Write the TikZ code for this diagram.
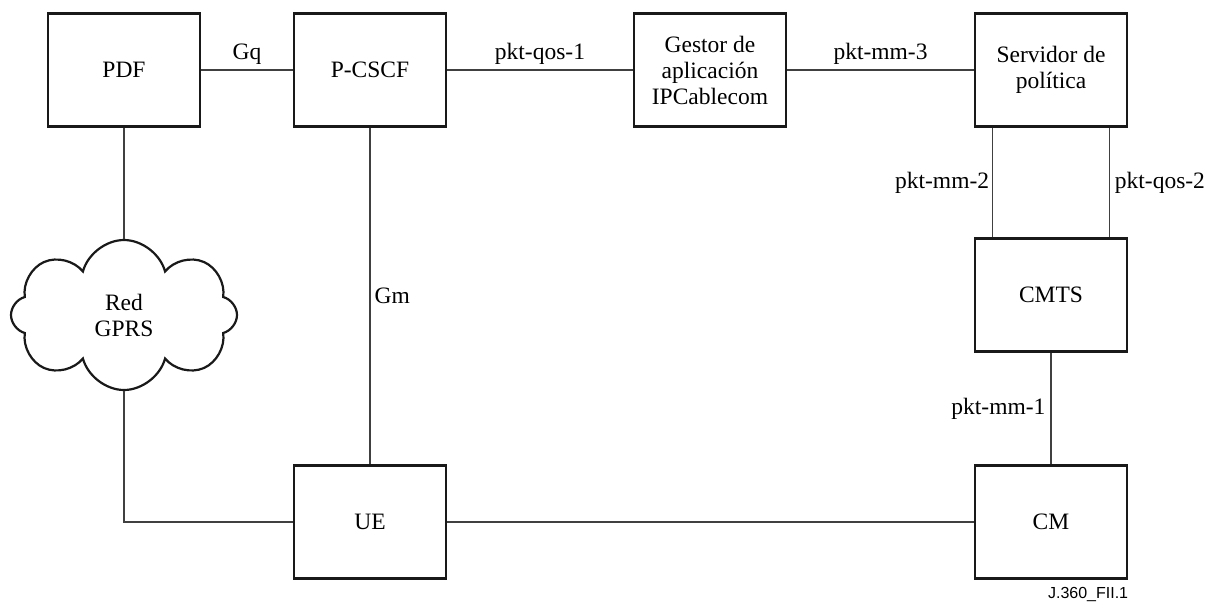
\documentclass[tikz,border=0pt]{standalone}
\usepackage{fontspec}
\setmainfont{Liberation Serif}
\newfontfamily\figfont{Liberation Sans}
\usetikzlibrary{positioning,shapes.symbols}

\begin{document}
\begin{tikzpicture}[x=1pt,y=-1pt,
    box/.style={rectangle,draw=black!90,line width=2.6pt,fill=white,
                minimum width=152pt,minimum height=113pt,align=center,
                font=\fontsize{23.5}{26}\selectfont},
    net/.style={cloud,cloud puffs=8,draw=black!90,line width=2.2pt,
                minimum width=226pt,minimum height=150pt,align=center,
                font=\fontsize{23.5}{26}\selectfont},
    link/.style={draw=black!75,line width=1.2pt},
    tag/.style={font=\fontsize{23.5}{26}\selectfont,inner sep=2pt}
]
\useasboundingbox (0,0) rectangle (1216,603);

% Top row
\node[box] (pdf) at (124,70) {PDF};
\node[box] (pcscf) at (370,70) {P-CSCF};
\node[box] (gestor) at (710,70) {Gestor de\\aplicación\\IPCablecom};
\node[box] (servidor) at (1051,70) {Servidor de\\política};

% Right column
\node[box] (cmts) at (1051,295) {CMTS};
\node[box] (cm) at (1051,522) {CM};

% Left side
\node[net] (gprs) at (124,315) {Red\\GPRS};
\node[box] (ue) at (370,522) {UE};

% Interfaces
\draw[link] (pdf.east) -- node[tag,above=3pt] (gq) {Gq} (pcscf.west);
\draw[link] (pcscf.east) -- node[tag,above=3pt] (qos1) {pkt-qos-1} (gestor.west);
\draw[link] (gestor.east) -- node[tag,above=3pt] (mm3) {pkt-mm-3} (servidor.west);
\draw[link] ([xshift=19pt]servidor.south west) -- node[tag,left=1pt] (mm2) {pkt-mm-2}
    ([xshift=19pt]cmts.north west);
\draw[link] ([xshift=-19pt]servidor.south east) -- node[tag,right=3pt] (qos2) {pkt-qos-2}
    ([xshift=-19pt]cmts.north east);
\draw[link] (cmts.south) -- node[tag,left=3pt] (mm1) {pkt-mm-1} (cm.north);
\draw[link] (pcscf.south) -- node[tag,right=2pt] (gm) {Gm} (ue.north);
\draw[link] (ue.east) -- (cm.west);
\draw[link] (pdf.south) -- (gprs.north);
\draw[link] (gprs.south) |- (ue.west);

% Figure number
\node[font=\figfont\fontsize{16}{18}\selectfont,anchor=north east,inner sep=0pt,
      below=7pt of cm.south east,anchor=north east] (fignum) {J.360\_FII.1};

\end{tikzpicture}
\end{document}
